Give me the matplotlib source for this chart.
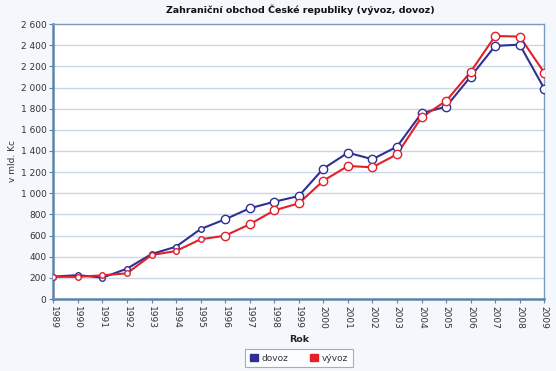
import matplotlib.pyplot as plt
from matplotlib.patches import Patch

# data (bn CZK)
years = list(range(1989, 2010))
dovoz = [212, 226, 202, 287, 425, 495, 662, 754, 858, 920, 974, 1233, 1384, 1322, 1441,
         1757, 1819, 2103, 2394, 2406, 1990]
vyvoz = [210, 210, 224, 243, 416, 454, 565, 599, 707, 838, 905, 1119, 1258, 1246, 1369,
         1719, 1873, 2148, 2488, 2482, 2141]
yticks = list(range(0, 2601, 200))

bg = '#f4f7fb'
blue = '#2e3192'
red = '#e3202a'
txt = '#333333'

fig = plt.figure(figsize=(5.56, 3.71), dpi=100, facecolor=bg)
ax = fig.add_axes([0.0959, 0.194, 0.883, 0.741])
ax.set_facecolor('white')

# lines first, then markers (small for early years, bigger later)
for vals, col in [(dovoz, blue), (vyvoz, red)]:
    ax.plot(years, vals, color=col, lw=1.5, zorder=3)
    ax.plot(years[:7], vals[:7], ls='none', marker='o', ms=4.0, mfc='white',
            mec=col, mew=1.0, zorder=4)
    ax.plot(years[7:], vals[7:], ls='none', marker='o', ms=6.0, mfc='white',
            mec=col, mew=1.0, zorder=4)

ax.set_xlim(1989, 2009)
ax.set_ylim(0, 2600)
ax.set_yticks(yticks)
ax.set_yticklabels(['{:,}'.format(v).replace(',', ' ') for v in yticks])
ax.set_xticks(years)
ax.set_xticklabels([str(y) for y in years], rotation=-90)
ax.tick_params(labelsize=6.5, colors=txt, length=3, width=0.8, pad=2)
ax.tick_params(axis='x', color='#5e84a8')
ax.tick_params(axis='y', color='#5e84a8')

ax.yaxis.grid(True, color='#c9d7e6', lw=1.0)
ax.set_axisbelow(True)
for side in ['left', 'bottom']:
    ax.spines[side].set_color('#5e84a8')
    ax.spines[side].set_linewidth(1.8)
for side in ['right', 'top']:
    ax.spines[side].set_color('#7e9bbb')
    ax.spines[side].set_linewidth(1.0)

fig.text(0.54, 0.975, 'Zahraniční obchod České republiky (vývoz, dovoz)',
         ha='center', va='center', fontsize=6.8, fontweight='bold', color='#111111')
fig.text(0.022, 0.565, 'v mld. Kc', rotation=90, ha='center', va='center',
         fontsize=6.5, color=txt)
fig.text(0.538, 0.084, 'Rok', ha='center', va='center', fontsize=6.8,
         fontweight='bold', color='#222222')

handles = [Patch(color=blue, label='dovoz'), Patch(color=red, label='vývoz')]
leg = fig.legend(handles=handles, loc='center', bbox_to_anchor=(0.538, 0.035),
                 ncol=2, fontsize=6.5, frameon=True, fancybox=False,
                 handlelength=0.9, handleheight=0.9, handletextpad=0.4,
                 columnspacing=2.4, borderpad=0.5)
leg.get_frame().set_edgecolor('#999999')
leg.get_frame().set_linewidth(0.8)
for t in leg.get_texts():
    t.set_color(txt)

fig.savefig('out.png', dpi=100, facecolor=bg)
